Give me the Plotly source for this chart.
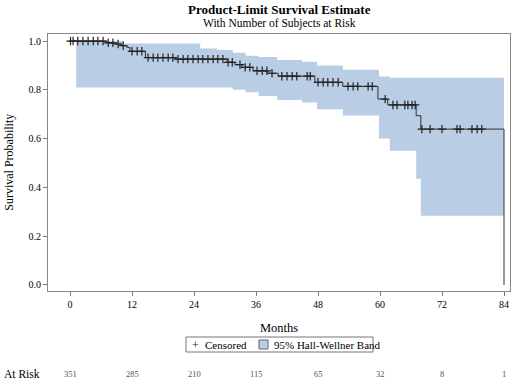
import numpy as np
import plotly.graph_objects as go

# ---- data ----
event_times = [0, 7.0, 8.5, 10.0, 11.0, 11.6, 14.6, 20.5, 30.4, 31.9, 33.3, 35.4,
               38.3, 40.3, 47.4, 52.8, 59.6, 61.5, 67.0, 67.9, 84.0]
survival = [1.0, 0.993, 0.988, 0.981, 0.974, 0.958, 0.932, 0.926, 0.913, 0.903, 0.892,
            0.878, 0.868, 0.856, 0.831, 0.814, 0.762, 0.738, 0.694, 0.639, 0.0]

censor_times = [0.1, 0.6, 1.5, 2.5, 3.5, 4.5, 5.4, 6.4, 7.4, 8.3, 9.3, 10.3, 12.0, 13.0,
                13.9, 15.1, 16.1, 17.0, 18.0, 19.0, 19.9, 20.9, 21.9, 22.8, 23.8, 24.8,
                25.7, 26.7, 27.7, 28.6, 29.6, 30.6, 31.4, 32.9, 33.9, 34.8, 36.2, 37.2,
                38.1, 39.1, 41.0, 42.0, 43.0, 43.9, 45.9, 46.5, 48.0, 49.0, 49.9, 50.9,
                51.9, 53.8, 54.8, 55.7, 57.7, 58.5, 61.0, 62.5, 63.3, 64.8, 65.4, 66.2,
                66.8, 68.1, 69.7, 72.0, 74.9, 75.5, 77.8, 78.8, 79.7]

band_x = [1.2, 10.3, 25.2, 28.5, 31.5, 34.0, 36.5, 40.1, 44.9, 47.8, 52.8, 59.8,
          61.9, 67.0, 67.9, 84.0]
band_upper = [1.0, 0.99, 0.97, 0.963, 0.952, 0.94, 0.935, 0.922, 0.915, 0.90, 0.882,
              0.855, 0.85, 0.85, 0.85, 0.85]
band_lower = [0.81, 0.81, 0.81, 0.81, 0.80, 0.79, 0.775, 0.758, 0.748, 0.72, 0.695,
              0.60, 0.55, 0.435, 0.284, 0.284]

tick_months = [0, 12, 24, 36, 48, 60, 72, 84]
at_risk = [351, 285, 210, 115, 65, 32, 8, 1]

# survival value at each censoring time (step-function lookup)
idx = np.searchsorted(np.array(event_times), np.array(censor_times), side="right") - 1
censor_surv = [survival[i] for i in idx]

FONT = "Liberation Serif"
BAND = "#b9cde5"
LINE = "#333333"

fig = go.Figure()
fig.add_trace(go.Scatter(x=band_x, y=band_upper, mode="lines", line=dict(width=0, shape="hv"),
                         showlegend=False, hoverinfo="skip"))
fig.add_trace(go.Scatter(x=band_x, y=band_lower, mode="lines", line=dict(width=0, shape="hv"),
                         fill="tonexty", fillcolor=BAND, name="95% Hall-Wellner Band",
                         showlegend=False, hoverinfo="skip"))
fig.add_trace(go.Scatter(x=event_times, y=survival, mode="lines",
                         line=dict(color=LINE, width=1, shape="hv"), showlegend=False))
fig.add_trace(go.Scatter(x=censor_times, y=censor_surv, mode="markers", name="Censored",
                         showlegend=False,
                         marker=dict(symbol="cross-thin", size=6,
                                     line=dict(color="#222222", width=1.2))))


def note(text, x, y, size, xanchor="center", xref="paper", color="#000", angle=0):
    return dict(text=text, x=x, y=y, xref=xref, yref="paper", xanchor=xanchor,
                yanchor="middle", textangle=angle, showarrow=False,
                font=dict(family=FONT, size=size, color=color))


annotations = [
    note("<b>Product-Limit Survival Estimate</b>", 0.5, 1.097, 13),
    note("With Number of Subjects at Risk", 0.5, 1.039, 11.5),
    note("Survival Probability", -0.086, 0.5, 12, angle=-90),
    note("Months", 0.5, -0.144, 12.5),
    note("At Risk", -0.1, -0.323, 11.5, xanchor="left"),
    # legend contents
    note("+", 0.3182, -0.2082, 12, color="#222"),
    note("Censored", 0.3355, -0.2082, 11, xanchor="left"),
    note("95% Hall-Wellner Band", 0.4848, -0.2082, 11, xanchor="left"),
]
for m, n in zip(tick_months, at_risk):
    annotations.append(note(str(n), m, -0.323, 8.5, xref="x", color="#555"))

shapes = [
    dict(type="rect", xref="paper", yref="paper", x0=0.2987, x1=0.7035, y0=-0.2374, y1=-0.179,
         line=dict(color="#777777", width=1), fillcolor="white", layer="below"),
    dict(type="rect", xref="paper", yref="paper", x0=0.4567, x1=0.4762, y0=-0.2257, y1=-0.1907,
         line=dict(color="#666666", width=1), fillcolor=BAND),
]

fig.update_layout(
    width=515, height=381,
    margin=dict(l=48, r=5, t=34, b=90, autoexpand=False),
    paper_bgcolor="white", plot_bgcolor="white",
    font=dict(family=FONT, size=10, color="#000"),
    annotations=annotations, shapes=shapes, showlegend=False,
)
fig.update_xaxes(range=[-4.26, 85.16], tickvals=tick_months, ticks="outside", ticklen=4,
                 tickcolor="#777", showline=True, linecolor="#888", mirror=True,
                 showgrid=False, zeroline=False, tickfont=dict(size=10), automargin=False)
fig.update_yaxes(range=[-0.025, 1.029], tickvals=[0, 0.2, 0.4, 0.6, 0.8, 1.0],
                 tickformat=".1f", ticks="outside", ticklen=4, tickcolor="#777",
                 showline=True, linecolor="#888", mirror=True, showgrid=False,
                 zeroline=False, tickfont=dict(size=10), automargin=False)

fig.write_html("out.html", config={"displayModeBar": False},
               post_script="document.body.style.margin='0';document.body.style.padding='0';")
